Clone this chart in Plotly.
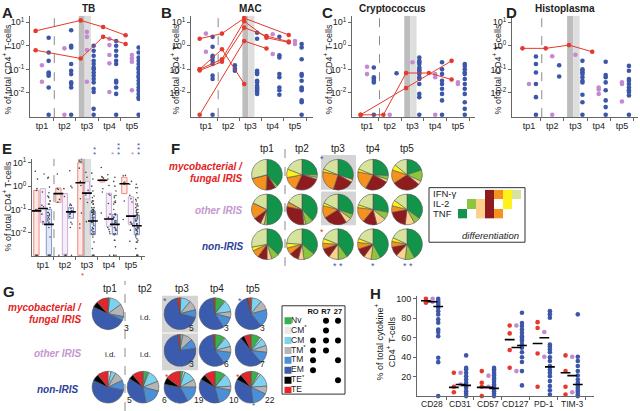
import plotly.graph_objects as go

W, H = 640, 411
FONT = "Liberation Sans, Arial, Helvetica, sans-serif"


def PX(x):
    return x / W


def PY(y):
    return 1 - y / H


RED = "#e5392c"
PURPLE = "#c38ad2"
BLUE = "#3c57a8"
LBL_RED, LBL_PURPLE, LBL_BLUE = "#e31e24", "#c497d0", "#2e3f98"
AXC = "#666666"
TPS = ["tp1", "tp2", "tp3", "tp4", "tp5"]

# ---------------- A-D: % of total CD4+ T-cells (0 = not detected, drawn at axis floor)
PATHOGENS = ["TB", "MAC", "Cryptococcus", "Histoplasma"]

A_red = [[4.3, None, 12, 6.3, 2.8],
         [0.65, None, 0.29, 2.4, 1.2]]
A_purple = [[0.15, 0.03], [0.78, 0], [3.9, 2.4, 0.66, 0.03],
            [2.0, 1.07, 0.41, 0.18, 0.011], [0.41, 0.29, 0.21, 0.013]]
A_blue = [[2.2, 0.52, 0.23, 0.074, 0.063, 0.054, 0.017, 0],
          [4.6, 1.0, 0.85, 0.17, 0.087, 0.063, 0.028, 0.024, 0.017, 0],
          [1.0, 0.62, 0.38, 0.23, 0.17, 0.12, 0.1, 0.074, 0.054, 0.039, 0.028, 0.015, 0.011, 0.0021, 0],
          [1.6, 1.0, 0.62, 0.38, 0.23, 0.17, 0.033, 0.028, 0.017, 0.0091, 0],
          [0.85, 0.52, 0.32, 0.23, 0.17, 0.12, 0.1, 0.074, 0.054, 0.046, 0.033, 0.024, 0.017,
           0.013, 0.0091, 0.0066, 0.0056, 0]]

B_red = [[2.0, 3.3, 15, None, 2.9],
         [0.1, 0.72, 0.024, None, None],
         [0.1, 0.27, 11, 2.2, 1.4],
         [0.09, 0.21, 5.9, 2.6, 1.5],
         [0, None, 1.6, 0.77, None]]
B_purple = [[3.3, 0.56], [], [], [3.1, 0.45], [1.6, 1.2]]
B_blue = [[2.4, 0.91, 0.38, 0.32, 0.23, 0.17, 0.054, 0.039, 0],
          [0.15, 0.11, 0.087],
          [3.6, 2.0, 0.087, 0.074, 0.063, 0.033, 0.028, 0.02, 0.017, 0.015, 0.013, 0.011, 0.0091],
          [2.4, 0.4, 0.32, 0.063, 0.046, 0.017, 0.013, 0.0083],
          [1.2, 0.85, 0.27, 0.063, 0.054, 0.033, 0.017, 0.015, 0.013, 0.0048, 0.004, 0]]

C_red = [[0, 0, 0.07, 0.07, 0.037],
         [0, None, 0.016, None, 0.23]]
C_purple = [[0.13, 0.063], [0], [0.2], [0.063, 0.046, 0], [0.028, 0.024]]
C_blue = [[0.12, 0.046, 0.039, 0.033, 0.028, 0],
          [0.068],
          [0.32, 0.23, 0.2, 0.17, 0.12, 0.1, 0.087, 0.074, 0.063, 0.046, 0.039, 0.024, 0.0091, 0.0066, 0],
          [0.2, 0.1, 0.063, 0.033, 0.024, 0.015, 0.0091, 0.0048, 0],
          [0.17, 0.14, 0.1, 0.074, 0.063, 0.039, 0.024, 0.015, 0.0091, 0.004, 0.0021, 0]]

D_red = [[0.78, 0.78, 1.07, 0.56, None]]
D_purple = [[0.024], [0.36, 0], [0.42], [0.017, 0.014, 0.0091], [0.028, 0.024, 0.0043]]
D_blue = [[0.35, 0.17, 0.074, 0.024, 0.0066, 0],
          [0.15, 0.05],
          [0.23, 0.1, 0.087, 0.074, 0.063, 0.046, 0.033, 0.028, 0.0083, 0.004, 0],
          [0.21, 0.058, 0.046, 0.028, 0.013, 0.0048, 0.0025, 0],
          [0.14, 0.087, 0.039, 0.033, 0.024, 0.017, 0.013, 0.011, 0.0078, 0]]

# ---------------- E: pooled box summaries (q1 / median / q3)
E_red_q1 = [0, 0.2, 0, 1.5, 0.48]
E_red_med = [0.087, 0.48, 1.4, 1.8, 1.26]
E_red_q3 = [0.66, 0.83, 10, 1.9, 2.4]
E_purple_q1 = [0.028, 0, 0.28, 0.019, 0.023]
E_purple_med = [0.11, None, 0.5, 0.039, 0.052]
E_purple_q3 = [0.78, 0.48, 1.6, 0.5, 0.35]
E_blue_q1 = [0, 0.042, 0.0083, 0.0083, 0.0083]
E_blue_med = [0.023, 0.079, 0.032, 0.023, 0.02]
E_blue_q3 = [0.1, 0.12, 0.085, 0.062, 0.057]

# ---------------- F: cytokine profile fractions
CYTO = ["TNF", "IL-2", "IL-2+TNF", "IFN-γ+IL-2+TNF", "IFN-γ+TNF", "IFN-γ+IL-2", "IFN-γ"]
CYTO_COLORS = ["#12944a", "#8cc63f", "#fdd08c", "#8e1b1e", "#f5921e", "#fff21a", "#d5e39c"]
CYTO_ROWS = ["IFN-γ", "IL-2", "TNF"]
CYTO_MEMBERS = [[0, 0, 0, 1, 1, 1, 1],
                [0, 1, 1, 1, 0, 1, 0],
                [1, 0, 1, 1, 1, 0, 0]]
F_myco = [[0.38, 0.03, 0.0, 0.10, 0.20, 0.0, 0.29], [0.25, 0.03, 0.02, 0.27, 0.15, 0.09, 0.19],
          [0.30, 0.0, 0.03, 0.22, 0.23, 0.03, 0.19], [0.26, 0.04, 0.03, 0.25, 0.20, 0.03, 0.19],
          [0.20, 0.12, 0.04, 0.30, 0.14, 0.06, 0.14]]
F_other = [[0.50, 0.03, 0.04, 0.08, 0.17, 0.0, 0.18], [0.38, 0.08, 0.02, 0.30, 0.05, 0.0, 0.17],
           [0.30, 0.05, 0.06, 0.25, 0.13, 0.03, 0.18], [0.28, 0.08, 0.10, 0.15, 0.16, 0.03, 0.20],
           [0.35, 0.07, 0.10, 0.20, 0.07, 0.06, 0.15]]
F_non = [[0.37, 0.08, 0.05, 0.10, 0.08, 0.04, 0.28], [0.36, 0.12, 0.06, 0.10, 0.07, 0.05, 0.24],
         [0.40, 0.10, 0.10, 0.10, 0.06, 0.05, 0.19], [0.42, 0.10, 0.08, 0.10, 0.07, 0.04, 0.19],
         [0.42, 0.10, 0.10, 0.10, 0.06, 0.04, 0.18]]

# ---------------- G: memory subset fractions
MEM = ["Nv", "CM*", "CM", "TM*", "TM", "EM", "TE*", "TE"]
MEM_LABELS = ["Nv", "CM<sup>*</sup>", "CM", "TM<sup>*</sup>", "TM", "EM", "TE<sup>*</sup>", "TE"]
MEM_COLORS = ["#35b34a", "#e9e9e9", "#7dd3ef", "#b5b5b5", "#4a8fd8", "#3b5cae", "#000000", "#e3262b"]
MEM_MARKERS = ["RO", "R7", "27"]
MEM_EXPR = [[0, 1, 1], [0, 1, 0], [1, 1, 1], [1, 1, 0], [1, 0, 1], [1, 0, 0], [0, 0, 1], [0, 0, 0]]
G_myco = [[0.01, 0.01, 0.13, 0.13, 0.04, 0.50, 0.06, 0.12], None,
          [0, 0.01, 0.10, 0.10, 0.08, 0.68, 0, 0.03], [0.10, 0.01, 0.12, 0.06, 0.12, 0.57, 0, 0.02],
          [0, 0.01, 0.10, 0.10, 0.18, 0.57, 0.01, 0.03]]
G_other = [None, None, [0, 0.01, 0.02, 0.10, 0.10, 0.75, 0, 0.02],
           [0.10, 0.01, 0.10, 0.06, 0.13, 0.58, 0, 0.02], [0.10, 0.02, 0.08, 0.07, 0.12, 0.50, 0.04, 0.07]]
G_non = [[0, 0.03, 0.05, 0.10, 0.10, 0.54, 0.07, 0.11], [0.05, 0.01, 0.13, 0.10, 0.18, 0.37, 0.05, 0.11],
         [0.03, 0.02, 0.12, 0.08, 0.17, 0.36, 0.07, 0.15], [0.10, 0.01, 0.13, 0.04, 0.18, 0.37, 0.06, 0.11],
         [0.08, 0.02, 0.14, 0.08, 0.16, 0.35, 0.06, 0.11]]
G_n_myco = [3, None, 5, 3, 3]
G_n_other = [None, None, 3, 6, 7]
G_n_non = [5, 6, 19, 10, 22]

# ---------------- H: % of total cytokine+ CD4+ T-cells
H_MARKERS = ["CD28", "CD31", "CD57", "CD127", "PD-1", "TIM-3"]
H_red = [[100, 97, 96], [24, 9.6, 4], [25.7, 13.7, 9.6, 0], [72.6, 64.4, 47.3, 29.1],
         [76, 70, 43.8, 9.6], [41.8, 25.7, 9.6, 1.7]]
H_purple = [[100, 97], [24, 12], [21, 9.6], [72.6, 25.7], [65.8, 40.4], [40.4, 4]]
H_blue = [[100, 97.6, 95.9, 94.2, 90.8, 87.3, 83.9, 78.8, 75.3, 68.5, 65.8, 61.6, 39.4, 34.9, 0],
          [41.8, 29, 27.4, 24, 20.5, 17, 13.7, 10.3, 8.6, 5.1, 2.7, 0],
          [29, 27.4, 25.7, 23.3, 21.2, 18.8, 17.1, 14.4, 12, 10.3, 7.5, 5.1, 2.7, 0],
          [85.6, 75, 72, 68.5, 65, 61.6, 60, 58, 56.5, 53, 49.7, 45, 40, 35, 25.7, 11],
          [87.3, 84, 80.5, 53, 51, 48, 45, 40, 36, 31, 27, 24, 20.5, 15.4, 10.3, 6, 1.7],
          [84, 40.4, 36, 31, 25.7, 21.2, 17, 13.7, 11, 8.6, 6.2, 4.1, 1.7, 0]]
H_med_red = [98, 9, 9, 58, 54, 24]
H_med_purple = [97, 12, 9, 50, 60, 21]
H_med_blue = [92, 11, 8, 52, 30, 12]

# =====================================================================
fig = go.Figure()
layout = dict(width=W, height=H, margin=dict(l=0, r=0, t=0, b=0), paper_bgcolor="white",
              plot_bgcolor="rgba(0,0,0,0)", showlegend=False, hovermode=False,
              font=dict(family=FONT, size=9, color="#222"))
shapes, annos = [], []


def ann(x, y, text, size=9, color="#222", xanchor="center", yanchor="middle", angle=0):
    annos.append(dict(x=PX(x), y=PY(y), xref="paper", yref="paper", text=text, showarrow=False,
                      font=dict(size=size, color=color, family=FONT), xanchor=xanchor,
                      yanchor=yanchor, textangle=angle, borderpad=0))


def star(x, y, color, size=9):
    ann(x, y + 2, "*", size=size, color=color)


def axkeys(n):
    s = "" if n == 1 else str(n)
    return "xaxis" + s, "yaxis" + s, "x" + s, "y" + s


AXIS = dict(showgrid=False, zeroline=False, showline=True, linecolor=AXC, linewidth=1,
            tickcolor=AXC, tickfont=dict(size=9, color="#222", family=FONT))
LOG_TICKS = [10, 1, 0.1, 0.01]
LOG_TEXT = ["10<sup>1</sup>", "10<sup>0</sup>", "10<sup>-1</sup>", "10<sup>-2</sup>"]
MINOR_TP = dict(tickmode="array", tickvals=[1.5, 2.5, 3.5, 4.5, 5.5], ticks="outside", ticklen=3,
                tickcolor=AXC)
OFF = {"red": -0.28, "purple": 0.0, "blue": 0.3}
ZERO_AD = 10 ** -2.93
ZERO_E = 10 ** -2.96


def fl(v, z):
    return v if v > 0 else z


def add_band(xr, yr, b0, bm, b1):
    shapes.append(dict(type="rect", xref=xr, yref=yr + " domain", x0=b0, x1=bm, y0=0, y1=1,
                       fillcolor="#bdbdbd", line=dict(width=0), layer="below"))
    shapes.append(dict(type="rect", xref=xr, yref=yr + " domain", x0=bm, x1=b1, y0=0, y1=1,
                       fillcolor="#dedede", line=dict(width=0), layer="below"))


def add_vdash(xr, yr, x):
    shapes.append(dict(type="line", xref=xr, yref=yr + " domain", x0=x, x1=x, y0=0, y1=1,
                       line=dict(color="#8a8a8a", width=1, dash="dash"), layer="below"))


# ---------------- panels A-D
PANEL_BOX = [(30, 140, 0.47, 5.36, 88, 1, 7),
             (191, 313, 0.33, 5.81, 250, 160, 175),
             (352, 475, 0.34, 5.75, 392, 321, 328),
             (512, 638, 0.27, 5.69, 565, 505, 497)]
PANEL_DATA = [(A_red, A_purple, A_blue), (B_red, B_purple, B_blue),
              (C_red, C_purple, C_blue), (D_red, D_purple, D_blue)]
LETTERS = ["A", "B", "C", "D"]

for k in range(4):
    n = k + 1
    xk, yk, xr, yr = axkeys(n)
    x0, x1, r0, r1, tcx, lx, ytx = PANEL_BOX[k]
    reds, purs, blus = PANEL_DATA[k]
    layout[xk] = dict(AXIS, domain=[PX(x0), PX(x1)], range=[r0, r1], tickvals=[1, 2, 3, 4, 5],
                      ticktext=TPS, ticks="", minor=MINOR_TP, anchor=yr)
    layout[yk] = dict(AXIS, domain=[PY(115), PY(13)], type="log", range=[-3.03, 1.27],
                      tickvals=LOG_TICKS, ticktext=LOG_TEXT, ticks="outside", ticklen=3, anchor=xr)
    add_band(xr, yr, 2.64, 2.9, 3.18)
    add_vdash(xr, yr, 1.55)
    bx, by = [], []
    for i, vals in enumerate(blus):
        bx += [i + 1 + OFF["blue"]] * len(vals)
        by += [fl(v, ZERO_AD) for v in vals]
    fig.add_trace(go.Scatter(x=bx, y=by, mode="markers", xaxis=xr, yaxis=yr,
                             marker=dict(color=BLUE, size=4.6)))
    px_, py_ = [], []
    for i, vals in enumerate(purs):
        px_ += [i + 1 + OFF["purple"]] * len(vals)
        py_ += [fl(v, ZERO_AD) for v in vals]
    fig.add_trace(go.Scatter(x=px_, y=py_, mode="markers", xaxis=xr, yaxis=yr,
                             marker=dict(color=PURPLE, size=4.6)))
    for line in reds:
        lx_ = [i + 1 + OFF["red"] for i, v in enumerate(line) if v is not None]
        ly_ = [fl(v, ZERO_AD) for v in line if v is not None]
        fig.add_trace(go.Scatter(x=lx_, y=ly_, mode="lines+markers", xaxis=xr, yaxis=yr,
                                 line=dict(color=RED, width=1), marker=dict(color=RED, size=4.6)))
    ann(tcx, 6, "<b>" + PATHOGENS[k] + "</b>", size=10)
    ann(lx, 0, "<b>" + LETTERS[k] + "</b>", size=15, xanchor="left", yanchor="top")
    ann(ytx, 67, "% of total CD4<sup>+</sup> T-cells", size=9, angle=-90)

# ---------------- panel E
xk, yk, xr, yr = axkeys(5)
layout[xk] = dict(AXIS, domain=[PX(32), PX(145)], range=[0.5, 5.64], tickvals=[1, 2, 3, 4, 5],
                  ticktext=TPS, ticks="", minor=MINOR_TP, anchor=yr)
layout[yk] = dict(AXIS, domain=[PY(255), PY(157)], type="log", range=[-3.0, 1.17],
                  tickvals=LOG_TICKS, ticktext=LOG_TEXT, ticks="outside", ticklen=3, anchor=xr)
add_band(xr, yr, 2.59, 2.91, 3.18)
add_vdash(xr, yr, 1.5)
E_OFF = {"red": -0.3, "purple": 0.0, "blue": 0.27}
E_STYLE = {"red": ("#ee8a80", "#fde8e4"), "purple": ("#cfaedb", "#f5edf8"),
           "blue": ("#8797d2", "#e1e7f6")}
E_BOX = {"red": (E_red_q1, E_red_med, E_red_q3), "purple": (E_purple_q1, E_purple_med, E_purple_q3),
         "blue": (E_blue_q1, E_blue_med, E_blue_q3)}
for g in ["red", "purple", "blue"]:
    q1, med, q3 = E_BOX[g]
    pos = [i + 1 + E_OFF[g] for i in range(5)]
    q1v = [fl(v, ZERO_E) for v in q1]
    q3v = [fl(v, ZERO_E) for v in q3]
    medv = [fl(m, ZERO_E) if m is not None else q1v[i] for i, m in enumerate(med)]
    fig.add_trace(go.Box(x=pos, q1=q1v, median=medv, q3=q3v, lowerfence=q1v, upperfence=q3v,
                         width=0.24, whiskerwidth=0, boxpoints=False, xaxis=xr, yaxis=yr,
                         fillcolor=E_STYLE[g][1], line=dict(color=E_STYLE[g][0], width=1)))
# pooled individual values from A-D
JIT = [-0.05, 0.0, 0.05, -0.025, 0.025]
pooled = {"red": [[] for _ in range(5)], "purple": [[] for _ in range(5)], "blue": [[] for _ in range(5)]}
for reds, purs, blus in PANEL_DATA:
    for line in reds:
        for i, v in enumerate(line):
            if v is not None:
                pooled["red"][i].append(v)
    for i, vals in enumerate(purs):
        pooled["purple"][i] += vals
    for i, vals in enumerate(blus):
        pooled["blue"][i] += vals
dx, dy = [], []
for g in ["red", "purple", "blue"]:
    for i in range(5):
        for j, v in enumerate(pooled[g][i]):
            dx.append(i + 1 + E_OFF[g] + JIT[j % len(JIT)])
            dy.append(fl(v, ZERO_E))
fig.add_trace(go.Scatter(x=dx, y=dy, mode="markers", xaxis=xr, yaxis=yr,
                         marker=dict(color="#444", size=1.6)))
mx, my = [], []
for g in ["red", "purple", "blue"]:
    for i, m in enumerate(E_BOX[g][1]):
        if m is not None:
            mx.append(i + 1 + E_OFF[g])
            my.append(m)
fig.add_trace(go.Scatter(x=mx, y=my, mode="markers", xaxis=xr, yaxis=yr,
                         marker=dict(symbol="line-ew", size=7, line=dict(color="black", width=1.6))))
ann(1, 137, "<b>E</b>", size=15, xanchor="left", yanchor="top")
ann(7, 205, "% of total CD4<sup>+</sup> T-cells", size=9, angle=-90)
for (sx, sy, c) in [(94, 146, BLUE), (94, 150.5, BLUE), (112, 150.5, PURPLE), (118, 141.5, BLUE),
                    (118, 146, BLUE), (118, 150.5, BLUE), (132, 150.5, PURPLE), (138, 141.5, BLUE),
                    (138, 146, BLUE), (138, 150.5, BLUE), (82, 272, RED)]:
    star(sx, sy, c, size=8)

# ---------------- panel F: cytokine pies
F_CX = [267, 302, 338, 373, 407]
F_CY = [173, 208, 243]
F_R = 15.5
for ri, rowdata in enumerate([F_myco, F_other, F_non]):
    for ci, vals in enumerate(rowdata):
        cx, cy = F_CX[ci], F_CY[ri]
        fig.add_trace(go.Pie(values=vals, labels=CYTO, sort=False, direction="clockwise", rotation=0,
                             marker=dict(colors=CYTO_COLORS, line=dict(color="#555", width=0.6)),
                             textinfo="none", hoverinfo="skip",
                             domain=dict(x=[PX(cx - F_R), PX(cx + F_R)], y=[PY(cy + F_R), PY(cy - F_R)])))
for ci in range(5):
    ann(F_CX[ci], 147, TPS[ci], size=10)
for (y0, y1) in [(153, 188), (190, 224)]:
    shapes.append(dict(type="rect", xref="paper", yref="paper", x0=PX(321), x1=PX(356),
                       y0=PY(y1), y1=PY(y0), fillcolor="#d4d4d4", line=dict(width=0), layer="below"))
shapes.append(dict(type="line", xref="paper", yref="paper", x0=PX(285), x1=PX(285), y0=PY(265),
                   y1=PY(140), line=dict(color="#8a8a8a", width=1, dash="dash")))
ann(170, 137, "<b>F</b>", size=15, xanchor="left", yanchor="top")
ann(244, 165, "<b><i>mycobacterial /</i></b>", size=10, color=LBL_RED, xanchor="right")
ann(244, 177, "<b><i>fungal IRIS</i></b>", size=10, color=LBL_RED, xanchor="right")
ann(244, 209, "<b><i>other IRIS</i></b>", size=10, color=LBL_PURPLE, xanchor="right")
ann(244, 245, "<b><i>non-IRIS</i></b>", size=10, color=LBL_BLUE, xanchor="right")
star(322, 155, BLUE)
star(322, 229, RED)
for sx in [335, 341, 405, 411]:
    star(sx, 263, BLUE)
star(373, 263, BLUE)

# F legend: cytokine combination heatmap
xk, yk, xr, yr = axkeys(6)
layout[xk] = dict(visible=False, domain=[PX(458), PX(521)], range=[-0.5, 6.5], anchor=yr)
layout[yk] = dict(visible=False, domain=[PY(217), PY(188)], range=[2.5, -0.5], anchor=xr)
zmat = [[c if CYTO_MEMBERS[r][c] else None for c in range(len(CYTO))] for r in range(3)]
ncat = len(CYTO_COLORS)
cscale = []
for i, c in enumerate(CYTO_COLORS):
    cscale += [[i / ncat, c], [(i + 1) / ncat, c]]
fig.add_trace(go.Heatmap(z=zmat, x=list(range(len(CYTO))), y=[0, 1, 2], colorscale=cscale,
                         zmin=-0.5, zmax=ncat - 0.5, showscale=False, xaxis=xr, yaxis=yr,
                         hoverinfo="skip"))
shapes.append(dict(type="rect", xref="paper", yref="paper", x0=PX(429), x1=PX(525), y0=PY(241),
                   y1=PY(186), line=dict(color="#333", width=1), fillcolor="rgba(0,0,0,0)"))
for r, lab in enumerate(CYTO_ROWS):
    ann(432, 192 + 10 * r, lab, size=9.5, xanchor="left")
ann(520, 234, "<i>differentiation</i>", size=9.5, xanchor="right")

# ---------------- panel G: memory pies
G_CX = [108, 143, 180, 215, 251]
G_CY = [313, 350, 387]
G_R = 16
for ri, (rowdata, counts) in enumerate([(G_myco, G_n_myco), (G_other, G_n_other), (G_non, G_n_non)]):
    for ci, vals in enumerate(rowdata):
        cx, cy = G_CX[ci], G_CY[ri]
        if vals is None:
            ann(cx + 2, cy + 4, "i.d.", size=8)
            continue
        fig.add_trace(go.Pie(values=vals, labels=MEM, sort=False, direction="clockwise", rotation=0,
                             marker=dict(colors=MEM_COLORS, line=dict(color="#555", width=0.6)),
                             textinfo="none", hoverinfo="skip",
                             domain=dict(x=[PX(cx - G_R), PX(cx + G_R)], y=[PY(cy + G_R), PY(cy - G_R)])))
        ddx = 25 if ri == 2 else (22 if ci == 0 else 15)
        ddy = 13 if ri == 2 else 14
        ann(cx + ddx, cy + ddy, str(counts[ci]), size=8.5, xanchor="right")
for ci in range(5):
    ann(G_CX[ci] + 2, 288, TPS[ci], size=10)
for (y0, y1) in [(295, 332), (333, 370)]:
    shapes.append(dict(type="rect", xref="paper", yref="paper", x0=PX(162), x1=PX(198),
                       y0=PY(y1), y1=PY(y0), fillcolor="#d4d4d4", line=dict(width=0), layer="below"))
shapes.append(dict(type="line", xref="paper", yref="paper", x0=PX(125), x1=PX(125), y0=PY(411),
                   y1=PY(280), line=dict(color="#8a8a8a", width=1, dash="dash")))
ann(2, 281, "<b>G</b>", size=15, xanchor="left", yanchor="top")
ann(83, 307, "<b><i>mycobacterial /</i></b>", size=10, color=LBL_RED, xanchor="right")
ann(83, 319, "<b><i>fungal IRIS</i></b>", size=10, color=LBL_RED, xanchor="right")
ann(83, 353, "<b><i>other IRIS</i></b>", size=10, color=LBL_PURPLE, xanchor="right")
ann(79, 389, "<b><i>non-IRIS</i></b>", size=10, color=LBL_BLUE, xanchor="right")
star(165, 298, BLUE)
star(240, 298, BLUE)
star(167, 375, RED)
star(238, 375, RED)
star(253, 403, BLUE, size=8)

# G legend: subsets and surface markers
xk, yk, xr, yr = axkeys(7)
layout[xk] = dict(visible=False, domain=[PX(282), PX(345)], range=[282, 345], anchor=yr)
layout[yk] = dict(visible=False, domain=[PY(393), PY(307)], range=[393, 307], anchor=xr)
ROW_Y = [320 + 10 * i for i in range(len(MEM))]
COL_X = [313, 326, 338]
fig.add_trace(go.Scatter(x=[288] * len(MEM), y=ROW_Y, mode="markers", xaxis=xr, yaxis=yr,
                         marker=dict(symbol="square", size=7, color=MEM_COLORS, line=dict(width=0))))
fig.add_trace(go.Scatter(x=[291] * len(MEM), y=ROW_Y, mode="text", text=MEM_LABELS,
                         textposition="middle right", xaxis=xr, yaxis=yr,
                         textfont=dict(size=8.5, color="#222", family=FONT)))
ddx_, ddy_ = [], []
for i, row in enumerate(MEM_EXPR):
    for j, v in enumerate(row):
        if v:
            ddx_.append(COL_X[j])
            ddy_.append(ROW_Y[i])
fig.add_trace(go.Scatter(x=ddx_, y=ddy_, mode="markers", xaxis=xr, yaxis=yr,
                         marker=dict(color="black", size=6)))
fig.add_trace(go.Scatter(x=COL_X, y=[311] * 3, mode="text", text=["<b>%s</b>" % m for m in MEM_MARKERS],
                         textposition="middle center", xaxis=xr, yaxis=yr,
                         textfont=dict(size=7.5, color="#111", family=FONT)))
shapes.append(dict(type="rect", xref="paper", yref="paper", x0=PX(282), x1=PX(345), y0=PY(394),
                   y1=PY(305), line=dict(color="#333", width=1), fillcolor="rgba(0,0,0,0)"))

# ---------------- panel H
xk, yk, xr, yr = axkeys(8)
layout[xk] = dict(AXIS, domain=[PX(417), PX(594)], range=[-0.54, 5.8], tickvals=list(range(6)),
                  ticktext=H_MARKERS, ticks="", showticklabels=False,
                  minor=dict(tickmode="array", tickvals=[0.5, 1.5, 2.5, 3.5, 4.5, 5.5], ticks="outside",
                             ticklen=3, tickcolor=AXC), anchor=yr)
layout[yk] = dict(AXIS, domain=[PY(396), PY(295)], range=[0, 103], tickvals=[20, 40, 60, 80, 100],
                  ticks="outside", ticklen=3, anchor=xr)
for i, lab in enumerate(H_MARKERS):
    annos.append(dict(x=i, y=PY(403.5), xref=xr, yref="paper", text=lab, showarrow=False,
                      font=dict(size=8.5, color="#222", family=FONT), xanchor="center",
                      yanchor="middle", borderpad=0))
H_OFF = {"red": -0.22, "purple": 0.02, "blue": 0.22}
for g, data, col in [("blue", H_blue, BLUE), ("purple", H_purple, PURPLE), ("red", H_red, RED)]:
    hx, hy = [], []
    for i, vals in enumerate(data):
        hx += [i + H_OFF[g]] * len(vals)
        hy += vals
    fig.add_trace(go.Scatter(x=hx, y=hy, mode="markers", xaxis=xr, yaxis=yr, cliponaxis=False,
                             marker=dict(color=col, size=4.6)))
mx, my = [], []
for g, meds in [("red", H_med_red), ("purple", H_med_purple), ("blue", H_med_blue)]:
    for i, m in enumerate(meds):
        mx.append(i + H_OFF[g])
        my.append(m)
fig.add_trace(go.Scatter(x=mx, y=my, mode="markers", xaxis=xr, yaxis=yr,
                         marker=dict(symbol="line-ew", size=7, line=dict(color="black", width=1.6))))
ann(369, 283, "<b>H</b>", size=15, xanchor="left", yanchor="top")
ann(385, 342, "% of total cytokine<sup>+</sup><br>CD4<sup>+</sup> T-cells", size=9, angle=-90)

layout["shapes"] = shapes
layout["annotations"] = annos
fig.update_layout(**layout)
# remove the browser's default page margin so the 640x411 figure fills the window exactly
fig.write_html("out.html", config={"displayModeBar": False},
               post_script="document.body.style.margin='0';document.body.style.padding='0';"
                           "document.body.style.overflow='hidden';")
